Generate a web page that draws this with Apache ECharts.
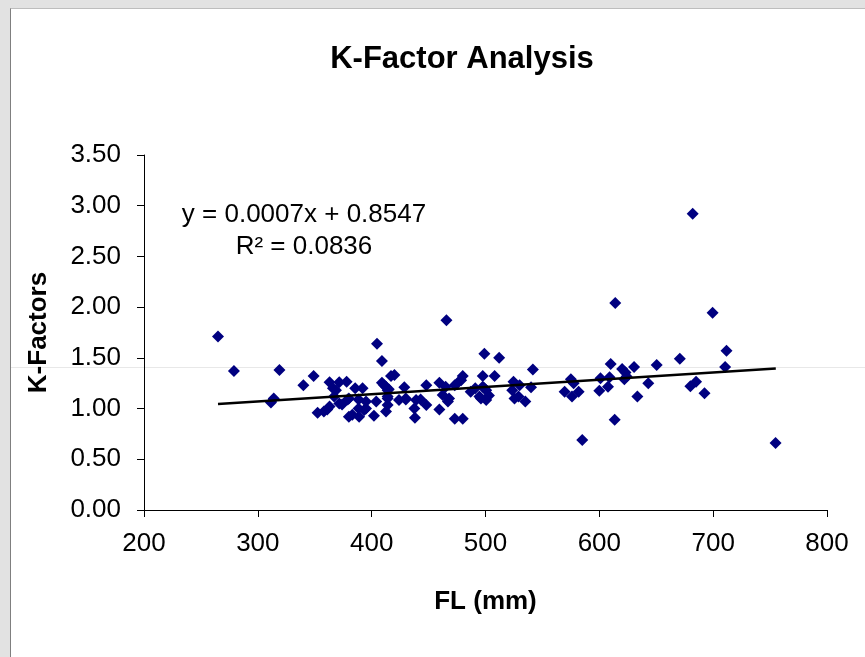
<!DOCTYPE html>
<html>
<head>
<meta charset="utf-8">
<script src="https://cdn.jsdelivr.net/npm/echarts@6/dist/echarts.min.js"></script>
<style>
  html, body { margin: 0; padding: 0; }
  #frame { position: relative; width: 865px; height: 657px; background: #e2e2e2; overflow: hidden; }
  #chart { position: absolute; left: 10px; top: 8px; width: 854px; height: 648px; background: #fff;
           border-left: 1px solid #7f7f7f; border-top: 1px solid #bdbdbd; }
</style>
</head>
<body>
<div id="frame"><div id="chart"></div></div>
<script>
// FL (mm) vs K-Factor
const flValues = [
  265, 279, 319, 311.5, 314, 340, 349, 352.5, 358, 361,
  363, 363, 366, 368.6, 367, 371.5, 371.5, 374, 378, 379,
  380, 380, 383, 385.5, 388.5, 388.5, 389, 392, 393.5, 395,
  395, 402, 404, 404.7, 409, 409, 411, 412.5, 414, 415,
  414, 414, 414, 412.6, 417, 420, 424, 428.7, 430, 437.5,
  438, 439, 443, 448, 448, 459.5, 459.5, 462.4, 465, 465.7,
  467, 473, 473, 475.6, 478.6, 480, 480, 487, 491, 494.7,
  497.6, 497.6, 499, 500.6, 500.6, 503, 508, 512, 523.5, 524.6,
  525.5, 529, 530, 535, 540, 541.6, 569.5, 575, 577.4, 576,
  581.8, 585, 600, 601, 607.6, 609, 610, 613.5, 614, 620,
  623, 624, 622, 630.5, 633.4, 643, 650.4, 670.7, 680, 682,
  685, 692.4, 699.5, 710.5, 711.7, 754.8, 468, 496, 499, 430
];
const kValues = [
  1.71, 1.37, 1.38, 1.06, 1.10, 1.23, 1.32, 0.96, 0.97, 0.99,
  1.02, 1.26, 1.20, 1.18, 1.12, 1.26, 1.05, 1.04, 1.265, 1.09,
  1.10, 0.92, 0.94, 1.20, 1.09, 1.00, 0.92, 1.20, 0.985, 1.07,
  1.00, 0.93, 1.07, 1.64, 1.47, 1.255, 1.23, 1.215, 1.18, 1.19,
  1.12, 1.10, 1.035, 0.97, 1.32, 1.33, 1.085, 1.21, 1.09, 1.00,
  0.91, 1.085, 1.09, 1.035, 1.23, 1.255, 0.99, 1.135, 1.215, 1.87,
  1.07, 1.23, 0.90, 1.255, 1.28, 1.32, 0.90, 1.165, 1.20, 1.12,
  1.32, 1.215, 1.54, 1.18, 1.085, 1.13, 1.32, 1.50, 1.18, 1.265,
  1.10, 1.12, 1.23, 1.07, 1.21, 1.385, 1.165, 1.29, 1.25, 1.12,
  1.165, 0.69, 1.175, 1.30, 1.215, 1.31, 1.44, 0.89, 2.04, 1.39,
  1.355, 1.315, 1.29, 1.41, 1.12, 1.25, 1.43, 1.49, 1.22, 2.92,
  1.265, 1.15, 1.945, 1.41, 1.57, 0.66, 1.10, 1.10, 1.20, 1.10
];
// linear trend line end points
const trendX = [265, 755];
const trendY = [1.045, 1.395];
const eqLines = ['y = 0.0007x + 0.8547', 'R² = 0.0836'];

const font = '"Liberation Sans", Arial, sans-serif';
let chart = echarts.init(document.getElementById('chart'));

let option = {
  animation: false,
  title: {
    text: 'K-Factor Analysis',
    left: 451,
    top: 35,
    padding: 0,
    textAlign: 'center',
    textStyle: { fontFamily: font, fontSize: 31, fontWeight: 'bold', color: '#000' }
  },
  grid: { left: 133, right: 38, top: 146, bottom: 147 },
  xAxis: {
    type: 'value',
    min: 200, max: 800, interval: 100,
    name: 'FL (mm)',
    nameLocation: 'middle',
    nameGap: 79,
    nameTextStyle: { fontFamily: font, fontSize: 26, fontWeight: 'bold', color: '#000' },
    axisLine: { lineStyle: { color: '#000', width: 1 } },
    axisTick: { length: 7, lineStyle: { color: '#000' } },
    axisLabel: { fontFamily: font, fontSize: 26, color: '#000', margin: 21 },
    splitLine: { show: false }
  },
  yAxis: {
    type: 'value',
    min: 0, max: 3.5, interval: 0.5,
    name: 'K-Factors',
    nameLocation: 'middle',
    nameGap: 92,
    nameTextStyle: { fontFamily: font, fontSize: 26, fontWeight: 'bold', color: '#000' },
    axisLine: { show: true, lineStyle: { color: '#000', width: 1 } },
    axisTick: { show: true, length: 7, lineStyle: { color: '#000' } },
    axisLabel: { fontFamily: font, fontSize: 26, color: '#000', margin: 23,
      formatter: v => v.toFixed(2) },
    splitLine: { show: false }
  },
  graphic: [
    { type: 'line', z: -1, silent: true,
      shape: { x1: 0, y1: 358.5, x2: 854, y2: 358.5 },
      style: { stroke: '#e8e8e8', lineWidth: 1 } },
    { type: 'text', x: 293, y: 206, z: 10,
      style: { text: eqLines[0], fontFamily: font, fontSize: 26, fill: '#000',
        textAlign: 'center', textVerticalAlign: 'middle' } },
    { type: 'text', x: 293, y: 238, z: 10,
      style: { text: eqLines[1], fontFamily: font, fontSize: 26, fill: '#000',
        textAlign: 'center', textVerticalAlign: 'middle' } }
  ],
  series: [
    {
      type: 'scatter',
      symbol: 'diamond',
      symbolSize: 12,
      itemStyle: { color: '#000080', opacity: 1 },
      data: flValues.map((x, i) => [x, kValues[i]])
    },
    {
      type: 'line',
      symbol: 'none',
      z: 3,
      lineStyle: { color: '#000', width: 2.5 },
      data: trendX.map((x, i) => [x, trendY[i]])
    }
  ]
};

chart.setOption(option);
</script>
</body>
</html>
